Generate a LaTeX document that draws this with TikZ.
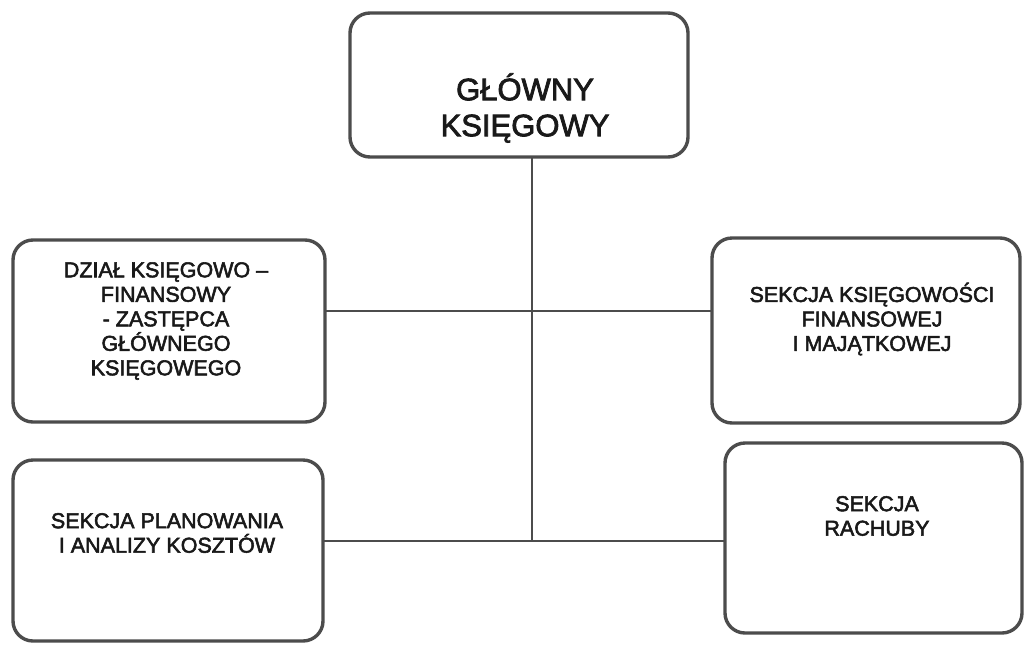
\documentclass[tikz,border=0pt]{standalone}
\usepackage{fontspec}
\setmainfont{Liberation Sans}
\newfontfamily\heavyfont{Liberation Sans}[FakeBold=2.5]
\begin{document}
\begin{tikzpicture}[x=1pt,y=-1pt,
  box/.style={draw=black!70, line width=3.4pt, rounded corners=20pt, inner sep=0pt, outer sep=0pt},
  txt/.style={align=center, inner sep=0pt, text=black!90, font=\heavyfont\fontsize{21.5}{24.5}\selectfont},
  bigtxt/.style={align=center, inner sep=0pt, text=black!90, font=\heavyfont\fontsize{31}{36}\selectfont},
  link/.style={draw=black!70, line width=1.3pt}]
\useasboundingbox (0,0) rectangle (1027,646);
\node[box, minimum width=338pt, minimum height=144pt] (top) at (519,85) {};
\node[box, minimum width=312pt, minimum height=182pt] (dzial) at (169,331) {};
\node[box, minimum width=308pt, minimum height=185pt] (skf) at (866,330.5) {};
\node[box, minimum width=310pt, minimum height=181pt] (plan) at (168,550.5) {};
\node[box, minimum width=297pt, minimum height=190pt] (rach) at (873.5,538) {};
\node[bigtxt] (ttop) at (525,108) {GŁÓWNY\\KSIĘGOWY};
\node[txt] (tdzial) at (166,321) {DZIAŁ KSIĘGOWO –\\FINANSOWY\\- ZASTĘPCA\\GŁÓWNEGO\\KSIĘGOWEGO};
\node[txt] (tskf) at (872,319) {SEKCJA KSIĘGOWOŚCI\\FINANSOWEJ\\I MAJĄTKOWEJ};
\node[txt] (tplan) at (167,533) {SEKCJA PLANOWANIA\\I ANALIZY KOSZTÓW};
\node[txt] (track) at (877,516) {SEKCJA\\RACHUBY};
\coordinate (j1) at (532,311);
\coordinate (j2) at (532,541);
\draw[link] (j1 |- top.south) -- (j2);
\draw[link] (dzial.east |- j1) -- (skf.west |- j1);
\draw[link] (plan.east |- j2) -- (rach.west |- j2);
\end{tikzpicture}
\end{document}
